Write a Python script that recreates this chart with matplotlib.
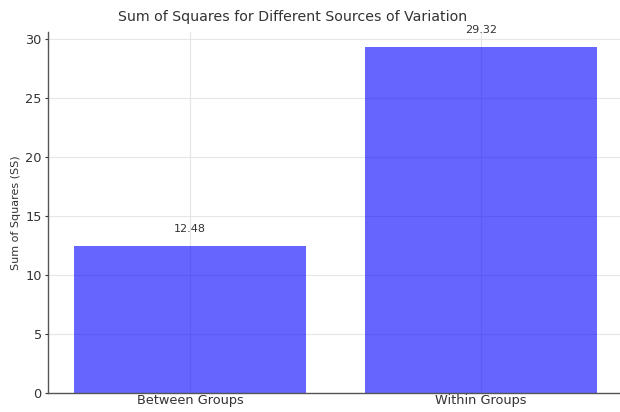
import matplotlib
matplotlib.use('Agg')
import matplotlib.pyplot as plt

# sums of squares from the one-way ANOVA
sources = ['Between Groups', 'Within Groups']
ss_values = [12.48, 29.32]

fig = plt.figure(figsize=(6.2, 4.12), dpi=100)
# axes spans past the right edge of the figure
ax = fig.add_axes([48/620, 19/412, 575/620, 361/412])

ax.set_axisbelow(True)
ax.grid(True, color='#e6e6e6', linewidth=0.8)

x = range(len(sources))
bars = ax.bar(x, ss_values, width=0.8, color='blue', alpha=0.6)

for b, v in zip(bars, ss_values):
    ax.text(b.get_x() + b.get_width()/2, v + 1, '%.2f' % v,
            ha='center', va='bottom', fontsize=8, color='#333333')

ax.set_xticks(list(x))
ax.set_xticklabels(sources, fontsize=9.3, color='#333333')
ax.set_xlim(-0.49, 1.49)
ax.set_ylim(0, 30.6)
ax.set_yticks([0, 5, 10, 15, 20, 25, 30])
ax.tick_params(axis='y', labelsize=9.3, colors='#333333', length=2.5, width=0.8, pad=2)
ax.tick_params(axis='x', length=0, pad=1)
ax.set_ylabel('Sum of Squares (SS)', fontsize=8, color='#333333', labelpad=3)

ax.set_title('Sum of Squares for Different Sources of Variation',
             fontsize=10.2, color='#333333', x=(293-48)/575, pad=8)

for s in ['top', 'right']:
    ax.spines[s].set_visible(False)
for s in ['left', 'bottom']:
    ax.spines[s].set_color('#555555')
    ax.spines[s].set_linewidth(1.0)

fig.savefig('out.png', dpi=100)
